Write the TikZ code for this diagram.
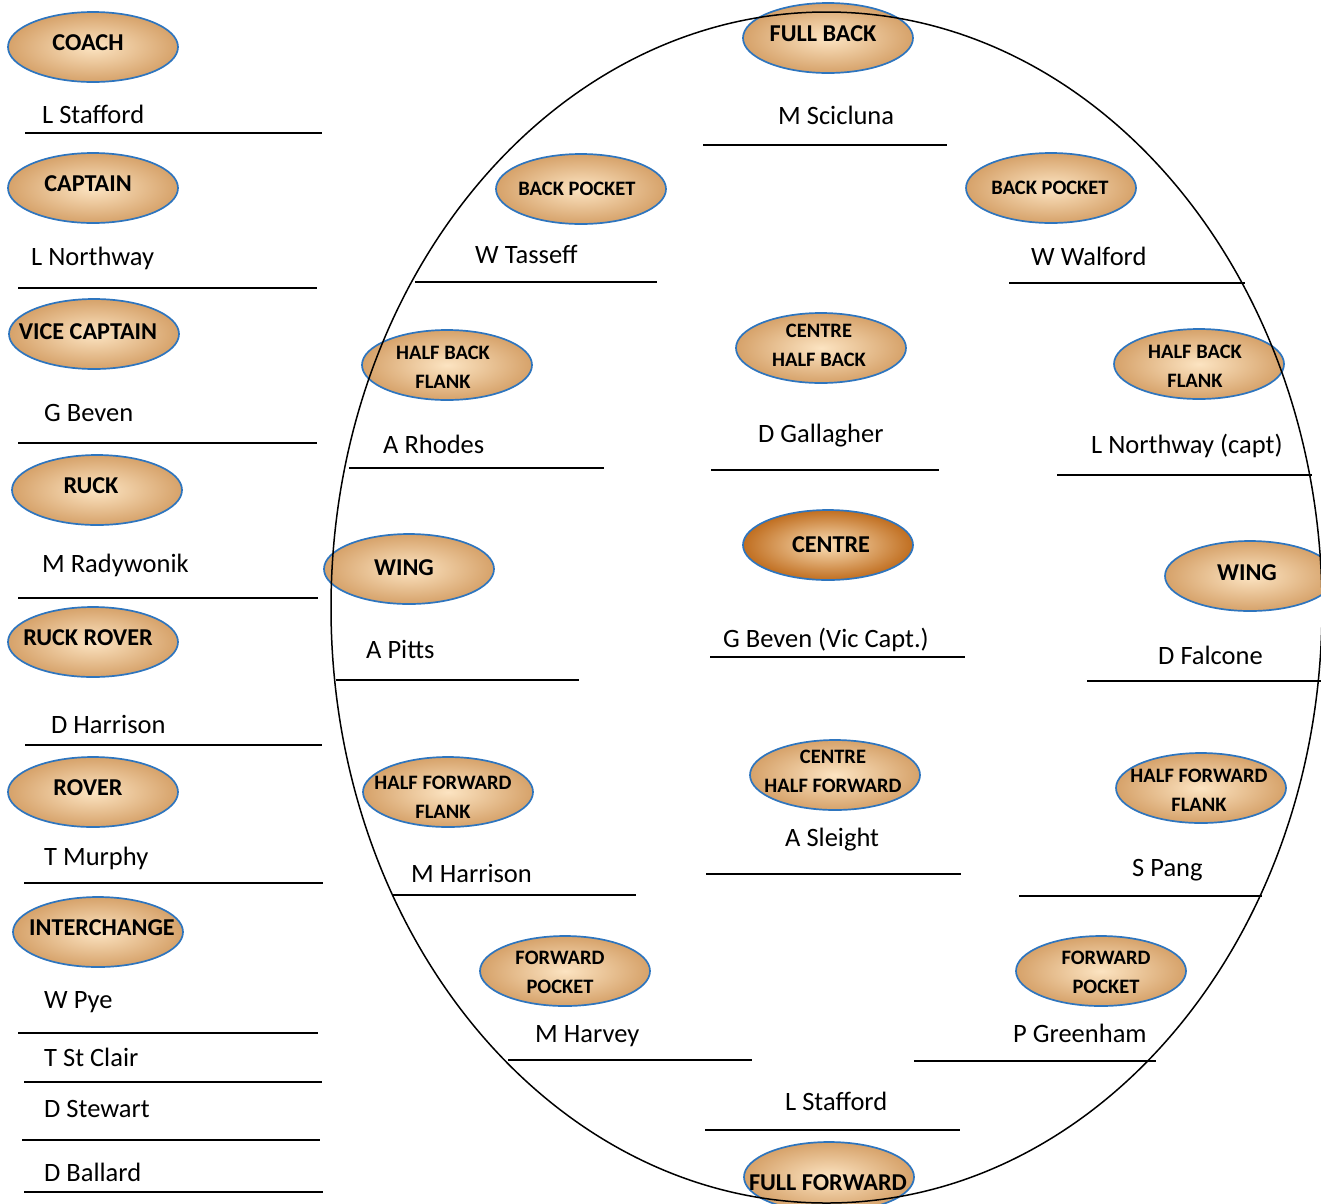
\documentclass[tikz,border=0pt]{standalone}
\usepackage{fontspec}
\setmainfont{Carlito}
\usetikzlibrary{shapes.geometric}
\definecolor{ballout}{RGB}{214,162,106}
\definecolor{ballin}{RGB}{252,228,194}
\definecolor{ctrout}{RGB}{192,110,32}
\definecolor{ctrin}{RGB}{250,222,182}
\definecolor{rim}{RGB}{46,117,190}
\tikzset{
  posn/.style={ellipse, draw=rim, line width=1.7pt, minimum width=170pt, minimum height=70pt, inner sep=0pt, inner color=ballin, outer color=ballout},
  posc/.style={posn, inner color=ctrin, outer color=ctrout},
  biglbl/.style={font=\fontsize{24.2}{28}\selectfont\bfseries, inner sep=0pt},
  smalllbl/.style={font=\fontsize{20.5}{29}\selectfont\bfseries, inner sep=0pt, align=center},
  pname/.style={font=\fontsize{26.5}{30}\selectfont, inner sep=0pt, anchor=base west},
  uline/.style={line width=1.5pt, black},
  field/.style={line width=1.5pt, black}
}
\begin{document}
\begin{tikzpicture}[x=1pt,y=-1pt]
\useasboundingbox (0,0) rectangle (1321,1203);
% ---- left column ellipses
\node[posn] (coach) at (93,47) {};
\node[biglbl] (coachT) at (88,43) {COACH};
\node[posn] (capt) at (93,188) {};
\node[biglbl] (captT) at (88,184) {CAPTAIN};
\node[posn] (vice) at (94,334) {};
\node[biglbl] (viceT) at (88,332) {VICE CAPTAIN};
\node[posn] (ruck) at (97,490) {};
\node[biglbl] (ruckT) at (91,486) {RUCK};
\node[posn] (rrover) at (93,642) {};
\node[biglbl] (rroverT) at (88,638) {RUCK ROVER};
\node[posn] (rover) at (93,792) {};
\node[biglbl] (roverT) at (88,788) {ROVER};
\node[posn] (inter) at (98,932) {};
\node[biglbl] (interT) at (102,928) {INTERCHANGE};
% ---- left column names and lines
\node[pname] (n1) at (42,123) {L Stafford};
\draw[uline] (25,133) -- (322,133);
\node[pname] (n2) at (31,265) {L Northway};
\draw[uline] (18,288) -- (317,288);
\node[pname] (n3) at (44,421) {G Beven};
\draw[uline] (18,443) -- (317,443);
\node[pname] (n4) at (42,572) {M Radywonik};
\draw[uline] (18,598) -- (318,598);
\node[pname] (n5) at (51,733) {D Harrison};
\draw[uline] (25,745) -- (322,745);
\node[pname] (n6) at (44,865) {T Murphy};
\draw[uline] (24,883) -- (323,883);
\node[pname] (n7) at (44,1008) {W Pye};
\draw[uline] (18,1033) -- (318,1033);
\node[pname] (n8) at (44,1066) {T St Clair};
\draw[uline] (24,1082) -- (322,1082);
\node[pname] (n9) at (44,1117) {D Stewart};
\draw[uline] (22,1140) -- (320,1140);
\node[pname] (n10) at (44,1181) {D Ballard};
\draw[uline] (24,1192) -- (323,1192);
% ---- field ellipses
\node[posn] (fb) at (828,38) {};
\node[biglbl] (fbT) at (823,34) {FULL BACK};
\node[posn] (bpl) at (581,189) {};
\node[smalllbl] (bplT) at (577,189) {BACK POCKET};
\node[posn] (bpr) at (1051,188) {};
\node[smalllbl] (bprT) at (1050,188) {BACK POCKET};
\node[posn] (hbfl) at (447,365) {};
\node[smalllbl] (hbflT) at (443,367) {HALF BACK\\FLANK};
\node[posn] (chb) at (821,348) {};
\node[smalllbl] (chbT) at (819,345) {CENTRE\\HALF BACK};
\node[posn] (hbfr) at (1199,364) {};
\node[smalllbl] (hbfrT) at (1195,366) {HALF BACK\\FLANK};
\node[posn] (wl) at (409,569) {};
\node[biglbl] (wlT) at (404,568) {WING};
\node[posc] (ctr) at (828,545) {};
\node[biglbl] (ctrT) at (831,545) {CENTRE};
\node[posn] (wr) at (1250,576) {};
\node[biglbl] (wrT) at (1247,573) {WING};
\node[posn] (hffl) at (448,792) {};
\node[smalllbl] (hfflT) at (443,797) {HALF FORWARD\\FLANK};
\node[posn] (chf) at (835,775) {};
\node[smalllbl] (chfT) at (833,771) {CENTRE\\HALF FORWARD};
\node[posn] (hffr) at (1201,788) {};
\node[smalllbl] (hffrT) at (1199,790) {HALF FORWARD\\FLANK};
\node[posn] (fpl) at (565,971) {};
\node[smalllbl] (fplT) at (560,972) {FORWARD\\POCKET};
\node[posn] (fpr) at (1101,971) {};
\node[smalllbl] (fprT) at (1106,972) {FORWARD\\POCKET};
\node[posn] (ff) at (829,1177) {};
\node[biglbl] (ffT) at (828,1183) {FULL FORWARD};
% ---- oval field
\draw[field] (826.5,607.5) ellipse [x radius=495.5, y radius=595.5];
% ---- field names and lines
\node[pname] (f1) at (778,124) {M Scicluna};
\draw[uline] (703,145) -- (947,145);
\node[pname] (f2) at (475,263) {W Tasseff};
\draw[uline] (415,282) -- (657,282);
\node[pname] (f3) at (1031,265) {W Walford};
\draw[uline] (1009,283) -- (1245,283);
\node[pname] (f4) at (383,453) {A Rhodes};
\draw[uline] (349,468) -- (604,468);
\node[pname] (f5) at (758,442) {D Gallagher};
\draw[uline] (711,470) -- (939,470);
\node[pname] (f6) at (1091,453) {L Northway (capt)};
\draw[uline] (1057,475) -- (1312,475);
\node[pname] (f7) at (366,658) {A Pitts};
\draw[uline] (336,680) -- (579,680);
\node[pname] (f8) at (723,647) {G Beven (Vic Capt.)};
\draw[uline] (710,657) -- (965,657);
\node[pname] (f9) at (1158,664) {D Falcone};
\draw[uline] (1087,681) -- (1321,681);
\node[pname] (f10) at (411,882) {M Harrison};
\draw[uline] (393,895) -- (636,895);
\node[pname] (f11) at (785,846) {A Sleight};
\draw[uline] (706,874) -- (961,874);
\node[pname] (f12) at (1132,876) {S Pang};
\draw[uline] (1019,896) -- (1262,896);
\node[pname] (f13) at (535,1042) {M Harvey};
\draw[uline] (508,1060) -- (752,1060);
\node[pname] (f14) at (1013,1042) {P Greenham};
\draw[uline] (914,1061) -- (1156,1061);
\node[pname] (f15) at (785,1110) {L Stafford};
\draw[uline] (705,1130) -- (960,1130);
\end{tikzpicture}
\end{document}
